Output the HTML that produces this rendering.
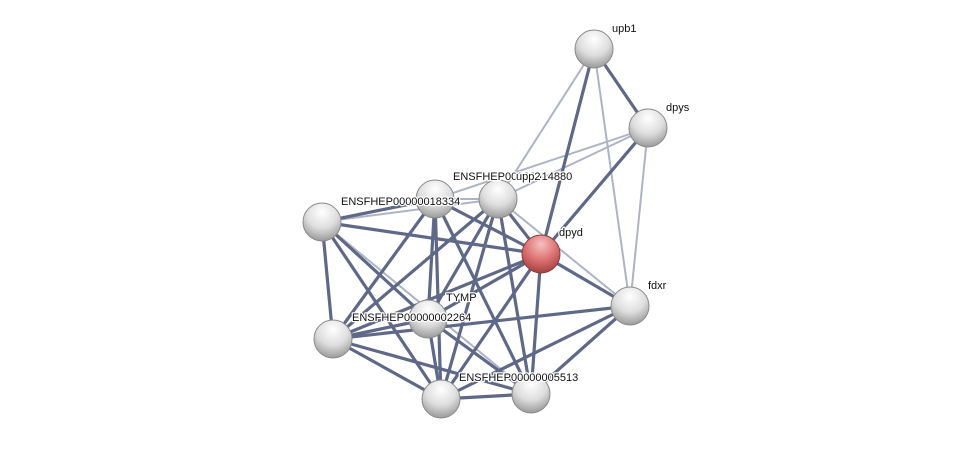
<!DOCTYPE html>
<html><head><meta charset="utf-8"><style>
html,body{margin:0;padding:0;background:#fff;}
svg text{font-family:"Liberation Sans",sans-serif;font-size:11px;fill:#111;stroke:#fff;stroke-width:2.5px;paint-order:stroke;stroke-linejoin:round;}
</style></head><body>
<svg width="975" height="444" viewBox="0 0 975 444" xmlns="http://www.w3.org/2000/svg">
<defs>
<radialGradient id="g" cx="50%" cy="25%" r="75%">
<stop offset="0" stop-color="#ffffff"/><stop offset="0.55" stop-color="#dedede"/><stop offset="1" stop-color="#9a9a9a"/>
</radialGradient>
<radialGradient id="r" cx="50%" cy="25%" r="75%">
<stop offset="0" stop-color="#f7c0c0"/><stop offset="0.55" stop-color="#dc7272"/><stop offset="1" stop-color="#a84040"/>
</radialGradient>
</defs>
<g stroke-linecap="round">
<g stroke="#aeb3c6" stroke-width="2">
<line x1="594" y1="49" x2="630" y2="306"/>
<line x1="594" y1="49" x2="498" y2="199"/>
<line x1="648" y1="128" x2="630" y2="306"/>
<line x1="648" y1="128" x2="498" y2="199"/>
<line x1="648" y1="128" x2="435" y2="199"/>
<line x1="498" y1="199" x2="630" y2="306"/>
<line x1="498" y1="199" x2="322" y2="222"/>
<line x1="322" y1="222" x2="531" y2="394"/>
<line x1="435" y1="199" x2="498" y2="199"/>
</g>
<g stroke="#5f6886" stroke-width="3.2">
<line x1="594" y1="49" x2="648" y2="128"/>
<line x1="594" y1="49" x2="541" y2="254"/>
<line x1="648" y1="128" x2="541" y2="254"/>
<line x1="541" y1="254" x2="630" y2="306"/>
<line x1="541" y1="254" x2="322" y2="222"/>
<line x1="541" y1="254" x2="435" y2="199"/>
<line x1="541" y1="254" x2="498" y2="199"/>
<line x1="541" y1="254" x2="428" y2="319"/>
<line x1="541" y1="254" x2="333" y2="339"/>
<line x1="541" y1="254" x2="441" y2="399"/>
<line x1="541" y1="254" x2="531" y2="394"/>
<line x1="630" y1="306" x2="333" y2="339"/>
<line x1="630" y1="306" x2="531" y2="394"/>
<line x1="630" y1="306" x2="441" y2="399"/>
<line x1="498" y1="199" x2="333" y2="339"/>
<line x1="498" y1="199" x2="428" y2="319"/>
<line x1="498" y1="199" x2="441" y2="399"/>
<line x1="498" y1="199" x2="531" y2="394"/>
<line x1="322" y1="222" x2="435" y2="199"/>
<line x1="322" y1="222" x2="333" y2="339"/>
<line x1="322" y1="222" x2="441" y2="399"/>
<line x1="322" y1="222" x2="428" y2="319"/>
<line x1="435" y1="199" x2="333" y2="339"/>
<line x1="435" y1="199" x2="428" y2="319"/>
<line x1="435" y1="199" x2="441" y2="399"/>
<line x1="435" y1="199" x2="531" y2="394"/>
<line x1="333" y1="339" x2="428" y2="319"/>
<line x1="333" y1="339" x2="441" y2="399"/>
<line x1="333" y1="339" x2="531" y2="394"/>
<line x1="428" y1="319" x2="441" y2="399"/>
<line x1="428" y1="319" x2="531" y2="394"/>
<line x1="441" y1="399" x2="531" y2="394"/>
</g>
</g>
<g stroke="#8a8a8a" stroke-width="1">
<circle cx="594" cy="49" r="19" fill="url(#g)"/>
<circle cx="648" cy="128" r="19" fill="url(#g)"/>
<circle cx="630" cy="306" r="19" fill="url(#g)"/>
<circle cx="322" cy="222" r="19" fill="url(#g)"/>
<circle cx="435" cy="199" r="19" fill="url(#g)"/>
<circle cx="498" cy="199" r="19" fill="url(#g)"/>
<circle cx="428" cy="319" r="19" fill="url(#g)"/>
<circle cx="333" cy="339" r="19" fill="url(#g)"/>
<circle cx="441" cy="399" r="19" fill="url(#g)"/>
<circle cx="531" cy="394" r="19" fill="url(#g)"/>
<circle cx="541" cy="254" r="19" fill="url(#r)" stroke="#8a3a3a"/>
</g>
<text x="612" y="32">upb1</text>
<text x="666" y="111">dpys</text>
<text x="648" y="289">fdxr</text>
<text x="559" y="236">dpyd</text>
<text x="453" y="180">ENSFHEP00000014880</text>
<text x="516" y="180">upp2</text>
<text x="341" y="205">ENSFHEP00000018334</text>
<text x="446" y="301">TYMP</text>
<text x="352" y="321">ENSFHEP00000002264</text>
<text x="459" y="381">ENSFHEP00000005513</text>
</svg>
</body></html>
